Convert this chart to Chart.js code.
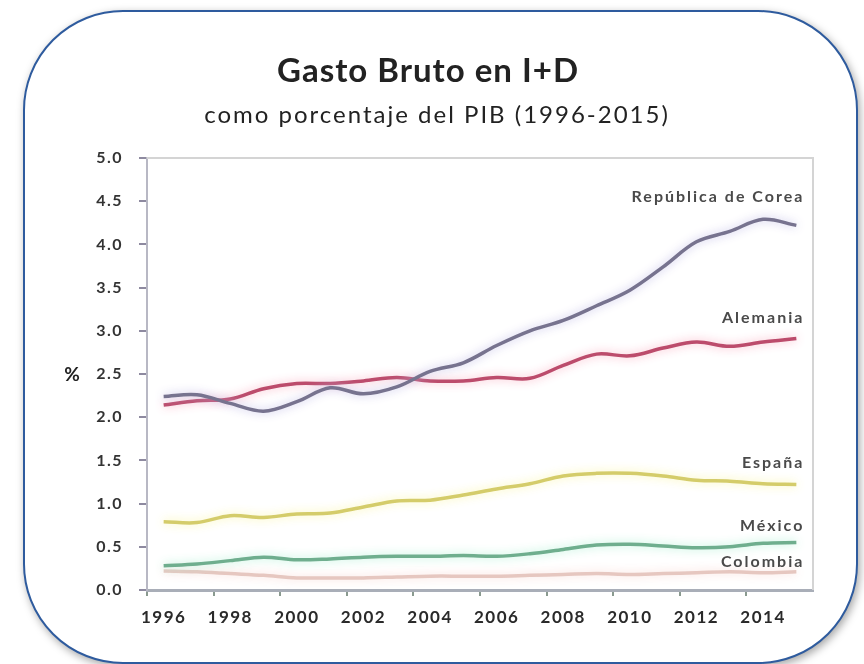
<!DOCTYPE html>
<html>
<head>
<meta charset="utf-8">
<title>Gasto Bruto en I+D</title>
<script src="https://cdn.jsdelivr.net/npm/chart.js@4.4.1/dist/chart.umd.min.js"></script>
<style>
  html, body { margin: 0; padding: 0; background: #ffffff; }
  #wrap { position: relative; width: 864px; height: 664px; overflow: hidden; }
  #frame {
    position: absolute; left: 23px; top: 10px; width: 831px; height: 650px;
    border: 2px solid #2E5B9E; border-radius: 100px;
    box-shadow: 2px 3px 9px rgba(0, 0, 0, 0.35); background: #ffffff;
  }
  #c { position: absolute; left: 0; top: 0; }
</style>
</head>
<body>
<div id="wrap">
  <div id="frame"></div>
  <canvas id="c" width="864" height="664"></canvas>
</div>
<script>
// Gasto bruto en I+D, % del PIB
const years = ['1996','1997','1998','1999','2000','2001','2002','2003','2004','2005',
               '2006','2007','2008','2009','2010','2011','2012','2013','2014','2015'];
const corea    = [2.24, 2.26, 2.16, 2.07, 2.18, 2.34, 2.27, 2.35, 2.53, 2.63,
                  2.83, 3.00, 3.12, 3.29, 3.47, 3.74, 4.03, 4.15, 4.29, 4.22];
const alemania = [2.14, 2.19, 2.21, 2.33, 2.39, 2.39, 2.42, 2.46, 2.42, 2.42,
                  2.46, 2.45, 2.60, 2.73, 2.71, 2.80, 2.87, 2.82, 2.87, 2.91];
const espana   = [0.79, 0.78, 0.86, 0.84, 0.88, 0.89, 0.96, 1.03, 1.04, 1.10,
                  1.17, 1.23, 1.32, 1.35, 1.35, 1.32, 1.27, 1.26, 1.23, 1.22];
const mexico   = [0.28, 0.30, 0.34, 0.38, 0.35, 0.36, 0.38, 0.39, 0.39, 0.40,
                  0.39, 0.42, 0.47, 0.52, 0.53, 0.51, 0.49, 0.50, 0.54, 0.55];
const colombia = [0.22, 0.21, 0.19, 0.17, 0.14, 0.14, 0.14, 0.15, 0.16, 0.16,
                  0.16, 0.17, 0.18, 0.19, 0.18, 0.19, 0.20, 0.21, 0.20, 0.21];
const seriesNames = ['República de Corea', 'Alemania', 'España', 'México', 'Colombia'];
const yTicks = [0, 0.5, 1, 1.5, 2, 2.5, 3, 3.5, 4, 4.5, 5];

// where each series name sits, in axis units
const nameLevel = [4.55, 3.15, 1.47, 0.74, 0.33];

const lineColors = ['#77738F', '#BC4C6C', '#D4CC6A', '#6FAE8E', '#E6C7C0'];
const glowColors = ['rgba(190,185,230,0.9)', 'rgba(250,170,190,0.9)', 'rgba(250,245,160,0.9)',
                    'rgba(170,240,210,0.9)', 'rgba(250,215,210,0.9)'];

// slightly open letter spacing for all axis text
const spacing = {
  id: 'spacing',
  beforeUpdate(chart) { chart.ctx.letterSpacing = '1.5px'; },
  beforeDraw(chart) { chart.ctx.letterSpacing = '1.5px'; }
};

const headings = {
  id: 'headings',
  afterDraw(chart) {
    const ctx = chart.ctx;
    ctx.save();
    ctx.fillStyle = '#222222';
    ctx.textAlign = 'center';
    ctx.textBaseline = 'middle';
    ctx.letterSpacing = '1px';
    ctx.font = 'bold 33px Lato';
    ctx.fillText('Gasto Bruto en I+D', 428, 71);
    ctx.letterSpacing = '2px';
    ctx.font = '24px Lato';
    ctx.fillText('como porcentaje del PIB (1996-2015)', 437, 115);
    // unit label beside the value axis
    ctx.letterSpacing = '0px';
    ctx.font = 'bold 19px Lato';
    ctx.fillText('%', 72, 375);
    ctx.restore();
  }
};

const plotFrame = {
  id: 'plotFrame',
  beforeDatasetsDraw(chart) {
    const { ctx, chartArea: a } = chart;
    ctx.save();
    ctx.strokeStyle = '#D4D4D4';
    ctx.lineWidth = 2;
    ctx.beginPath();
    ctx.moveTo(a.left, a.top);
    ctx.lineTo(a.right, a.top);
    ctx.lineTo(a.right, a.bottom);
    ctx.stroke();
    ctx.restore();
  }
};

const glow = {
  id: 'glow',
  beforeDatasetDraw(chart, args) {
    const ctx = chart.ctx;
    ctx.save();
    ctx.shadowColor = glowColors[args.index];
    ctx.shadowBlur = 10;
  },
  afterDatasetDraw(chart) {
    chart.ctx.restore();
  }
};

const seriesLabels = {
  id: 'seriesLabels',
  afterDatasetsDraw(chart) {
    const { ctx, scales: { x, y } } = chart;
    const right = x.getPixelForValue(years.length - 1) + 8;
    ctx.save();
    ctx.fillStyle = '#4A4A4A';
    ctx.font = 'bold 16px Lato';
    ctx.letterSpacing = '2px';
    ctx.textAlign = 'right';
    ctx.textBaseline = 'middle';
    seriesNames.forEach((n, i) => ctx.fillText(n, right, y.getPixelForValue(nameLevel[i])));
    ctx.restore();
  }
};

const values = [corea, alemania, espana, mexico, colombia];

new Chart(document.getElementById('c'), {
  type: 'line',
  data: {
    labels: years,
    datasets: values.map((v, i) => ({
      label: seriesNames[i],
      data: v,
      borderColor: lineColors[i],
      borderWidth: 3.5,
      pointRadius: 0,
      tension: 0.35,
      fill: false
    }))
  },
  options: {
    responsive: false,
    animation: false,
    layout: { padding: { left: 0, right: 51, top: 158, bottom: 0 } },
    plugins: { legend: { display: false }, tooltip: { enabled: false } },
    scales: {
      x: {
        offset: true,
        afterFit(s) { s.height = 74; },
        grid: {
          offset: true,
          drawOnChartArea: false,
          tickLength: 6,
          lineWidth: 2,
          color: c => (c.index % 2 === 0 ? '#8A9A8F' : 'rgba(0,0,0,0)')
        },
        border: { color: '#A9AEB8', width: 3 },
        ticks: {
          autoSkip: false,
          maxRotation: 0,
          padding: 11,
          color: '#2A2A2A',
          font: { family: 'Lato', size: 17, weight: 'bold' },
          callback(v, i) { return i % 2 === 0 ? years[i] : ''; }
        }
      },
      y: {
        min: 0,
        max: 5,
        afterFit(s) { s.width = 147; },
        afterBuildTicks(s) { s.ticks = yTicks.map(v => ({ value: v })); },
        grid: { drawOnChartArea: false, tickLength: 8, color: '#8E8AA0', lineWidth: 2 },
        border: { color: '#B8B8C4', width: 2 },
        ticks: {
          padding: 16,
          color: '#333333',
          font: { family: 'Lato', size: 16, weight: 'bold' },
          callback(v) { return v.toFixed(1); }
        }
      }
    }
  },
  plugins: [spacing, headings, plotFrame, glow, seriesLabels]
});
</script>
</body>
</html>
